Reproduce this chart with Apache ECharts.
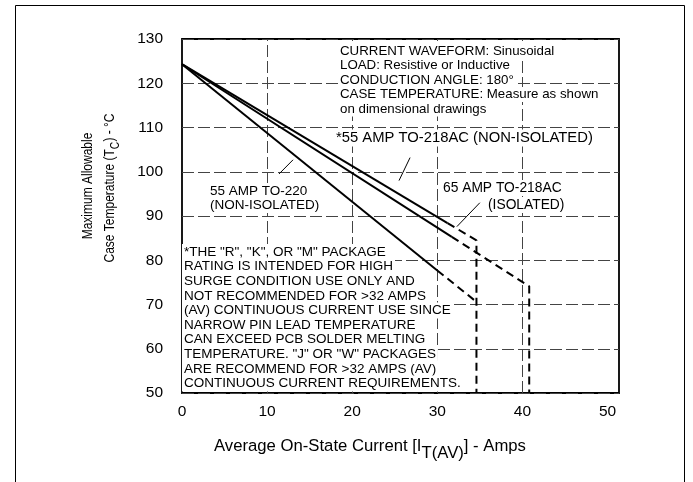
<!DOCTYPE html>
<html>
<head>
<meta charset="utf-8">
<script src="https://cdn.jsdelivr.net/npm/echarts@6/dist/echarts.min.js"></script>
<style>
html,body{margin:0;padding:0;background:#fff;}
#chart{width:693px;height:482px;}
</style>
</head>
<body>
<div id="chart"></div>
<script>
// ---- data (Amps, °C) ----
const xTickValues = [0, 10, 20, 30, 40, 50];
const yTickValues = [50, 60, 70, 80, 90, 100, 110, 120, 130];
const xGridValues = [10, 20, 30, 40];

// *55 AMP TO-218AC (NON-ISOLATED)
const to218NonIsoSolid = [[0, 124.3], [31.2, 88.4]];
const to218NonIsoDash  = [[31.2, 88.4], [34.6, 84.5], [34.6, 50]];
// 65 AMP TO-218AC (ISOLATED)
const to218IsoSolid = [[0, 124.3], [31.7, 85.3]];
const to218IsoDash  = [[31.7, 85.3], [40.8, 74.1], [40.8, 50]];
// 55 AMP TO-220 (NON-ISOLATED) — its dashed tail meets the x=34.6 limit line
const to220Solid = [[0, 124.3], [30, 77.7]];
const to220Dash  = [[30, 77.7], [34.6, 70.6]];

// leader lines from labels to curves
const leaderTo220 = [[11.4, 99.5], [13.05, 102.7]];
const leader218NonIso = [[26.8, 103.2], [25.5, 98.0]];
const leader218Iso = [[35.0, 93.0], [32.3, 87.6]];

const headerLines = [
  'CURRENT WAVEFORM: Sinusoidal',
  'LOAD: Resistive or Inductive',
  'CONDUCTION ANGLE: 180°',
  'CASE TEMPERATURE: Measure as shown',
  'on dimensional drawings'
];
const noteLines = [
  '*THE "R", "K", OR "M" PACKAGE',
  'RATING IS INTENDED FOR HIGH',
  'SURGE CONDITION USE ONLY AND',
  'NOT RECOMMENDED FOR >32 AMPS',
  '(AV) CONTINUOUS CURRENT USE SINCE',
  'NARROW PIN LEAD TEMPERATURE',
  'CAN EXCEED PCB SOLDER MELTING',
  'TEMPERATURE. "J" OR "W" PACKAGES',
  'ARE RECOMMEND FOR >32 AMPS (AV)',
  'CONTINUOUS CURRENT REQUIREMENTS.'
];

const FONT = '"Liberation Sans", Arial, Helvetica, sans-serif';
const chart = echarts.init(document.getElementById('chart'), null, {renderer: 'canvas'});

function solid(data) {
  return {type: 'line', data: data, symbol: 'none', silent: true, z: 5,
    lineStyle: {color: '#000', width: 2, type: 'solid'}};
}
function dashed(data) {
  return {type: 'line', data: data, symbol: 'none', silent: true, z: 5,
    lineStyle: {color: '#000', width: 2, type: [8, 5]}};
}
function leader(data) {
  return {type: 'line', data: data, symbol: 'none', silent: true, z: 5,
    lineStyle: {color: '#000', width: 1}};
}

const graphics = [];
// outer frame
graphics.push({type: 'rect', shape: {x: 15.5, y: 5.5, width: 669, height: 520}, z: 0,
  style: {fill: 'none', stroke: '#000', lineWidth: 1}, silent: true});

function textEl(str, x, y, size, extra) {
  return Object.assign({
    type: 'text', x: x, y: y, z: 3, silent: true,
    style: {text: str, font: size + 'px ' + FONT, fill: '#000',
      verticalAlign: 'middle', align: 'left', backgroundColor: '#fff', padding: [1, 2]}
  }, extra || {});
}
const headerY = [51, 65.5, 80, 94.5, 109];
headerLines.forEach((s, i) => graphics.push(textEl(s, 338, headerY[i], 13.3)));
const noteY = [252, 266.6, 281.2, 295.8, 310.4, 325, 339.6, 354.2, 368.8, 383.4];
noteLines.forEach((s, i) => graphics.push(textEl(s, 182, noteY[i], 13.5)));
graphics.push(textEl('*55 AMP TO-218AC (NON-ISOLATED)', 334, 138, 14.8));
graphics.push(textEl('55 AMP TO-220', 208, 191, 13.5));
graphics.push(textEl('(NON-ISOLATED)', 208, 205, 13.5));
graphics.push(textEl('65 AMP TO-218AC', 441, 188, 13.8));
graphics.push(textEl('(ISOLATED)', 486, 205, 13.8));

// axis titles
graphics.push({
  type: 'text', x: 370, y: 447, z: 3, silent: true,
  style: {
    text: '{n|Average On-State Current [I}{s|T(AV)}{n|] - Amps}',
    align: 'center', verticalAlign: 'middle', fill: '#000',
    rich: {
      n: {fontSize: 16.7, fontFamily: FONT, lineHeight: 18, verticalAlign: 'top', fill: '#000'},
      s: {fontSize: 16.7, fontFamily: FONT, lineHeight: 18, padding: [7, 0, 0, 0], verticalAlign: 'top', fill: '#000'}
    }
  }
});
graphics.push({
  type: 'text', x: 88, y: 186, rotation: Math.PI / 2, scaleX: 0.8, z: 3, silent: true,
  style: {text: 'Maximum Allowable', font: '15px ' + FONT, fill: '#000',
    align: 'center', verticalAlign: 'middle'}
});
graphics.push({
  type: 'text', x: 111, y: 188, rotation: Math.PI / 2, scaleX: 0.8, z: 3, silent: true,
  style: {
    text: '{n|Case Temperature (T}{s|C}{n|) - °C}',
    align: 'center', verticalAlign: 'middle', fill: '#000',
    rich: {
      n: {fontSize: 15, fontFamily: FONT, lineHeight: 17, verticalAlign: 'top', fill: '#000'},
      s: {fontSize: 13, fontFamily: FONT, lineHeight: 15, padding: [6, 0, 0, 0], verticalAlign: 'top', fill: '#000'}
    }
  }
});

const gridLineStyle = {color: '#444', width: 1, type: [12, 4]};

const option = {
  backgroundColor: '#fff',
  animation: false,
  grid: {left: 182, top: 39, right: 74, bottom: 89, show: true,
    borderColor: '#000', borderWidth: 1.8, backgroundColor: 'transparent'},
  xAxis: {
    type: 'value', min: 0, max: 51.35, interval: 10,
    axisLine: {show: false}, axisTick: {show: false},
    axisLabel: {margin: 11, fontSize: 15.5, fontFamily: FONT, color: '#000',
      formatter: v => (xTickValues.indexOf(v) >= 0 ? String(v) : '')},
    splitLine: {show: false}
  },
  yAxis: {
    type: 'value', min: 50, max: 130, interval: 10,
    axisLine: {show: false}, axisTick: {show: false},
    axisLabel: {margin: 19, fontSize: 15.5, fontFamily: FONT, color: '#000',
      formatter: v => (yTickValues.indexOf(v) >= 0 ? String(v) : '')},
    splitLine: {show: true, lineStyle: gridLineStyle}
  },
  series: [
    {type: 'line', data: [], z: 1, silent: true,
      markLine: {silent: true, symbol: 'none', animation: false, z: 1,
        label: {show: false}, lineStyle: gridLineStyle,
        emphasis: {disabled: true},
        data: xGridValues.map(v => ({xAxis: v}))}},
    solid(to218NonIsoSolid), dashed(to218NonIsoDash),
    solid(to218IsoSolid), dashed(to218IsoDash),
    solid(to220Solid), dashed(to220Dash),
    leader(leaderTo220), leader(leader218NonIso), leader(leader218Iso)
  ],
  graphic: graphics
};
chart.setOption(option);
</script>
</body>
</html>
